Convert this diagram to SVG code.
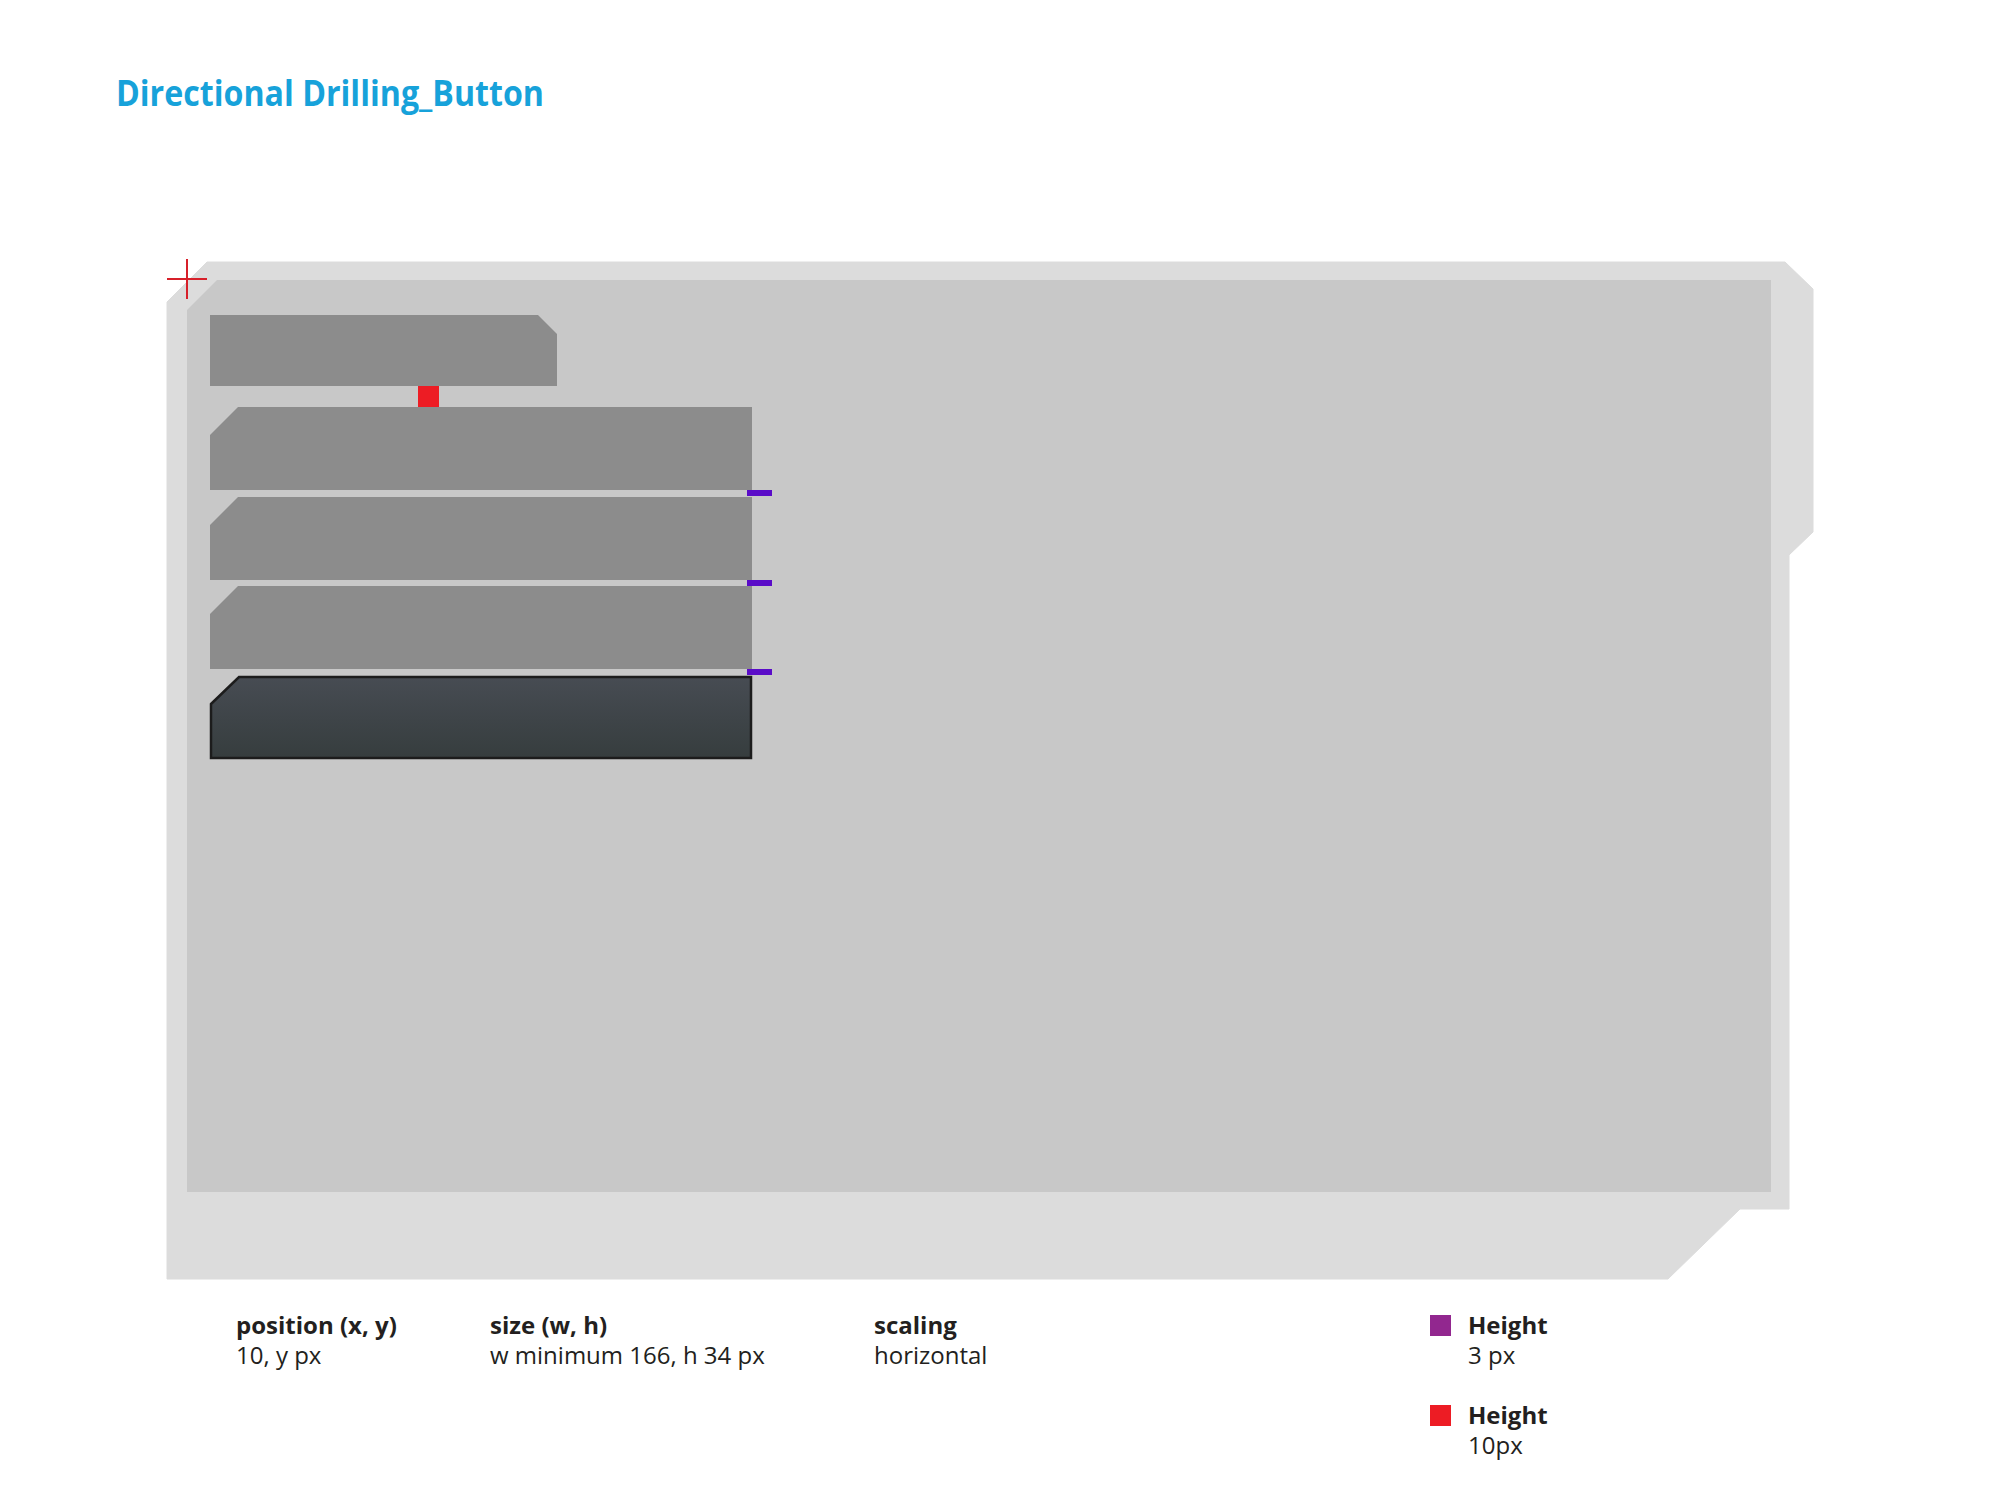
<svg xmlns="http://www.w3.org/2000/svg" width="2000" height="1500" viewBox="0 0 2000 1500">
<style>
.t{font-family:"Open Sans","Noto Sans","Liberation Sans",sans-serif;fill:#231f20;font-size:24px}
.b{font-weight:700}
.btn{fill:#8c8c8c}
.pv{fill:#5a0cc8}
</style>
<defs>
<linearGradient id="dg" x1="0" y1="0" x2="0" y2="1">
<stop offset="0" stop-color="#474c53"/>
<stop offset="1" stop-color="#363d3e"/>
</linearGradient>
</defs>
<rect width="2000" height="1500" fill="#ffffff"/>
<text x="116" y="106" font-family="'Open Sans','Noto Sans','Liberation Sans',sans-serif" font-size="36" font-weight="700" fill="#17a2da" textLength="428" lengthAdjust="spacingAndGlyphs">Directional Drilling_Button</text>
<g id="frame">
<polygon points="167,302 207,262 1785,262 1813,289 1813,532 1789,555 1789,1209 1740,1209 1668,1279 167,1279" fill="#dcdcdc" stroke="#dcdcdc" stroke-width="1" stroke-linejoin="round"/>
<polygon points="187,310 217,280 1771,280 1771,1192 187,1192" fill="#c8c8c8"/>
</g>
<g id="origin">
<line x1="167" y1="279" x2="207" y2="279" stroke="#d7202a" stroke-width="2"/>
<line x1="187" y1="259" x2="187" y2="299" stroke="#d7202a" stroke-width="2"/>
</g>
<g id="button1"><polygon class="btn" points="210,315 538,315 557,334 557,386 210,386"/></g>
<g id="button2"><polygon class="btn" points="210,435 238,407 752,407 752,490 210,490"/></g>
<g id="button3"><polygon class="btn" points="210,525 238,497 752,497 752,580 210,580"/></g>
<g id="button4"><polygon class="btn" points="210,614 238,586 752,586 752,669 210,669"/></g>
<g id="button5"><polygon points="211,704 239,677 751,677 751,758 211,758" fill="url(#dg)" stroke="#1c1c1c" stroke-width="2.5"/></g>
<g id="markers">
<rect x="418" y="386" width="21" height="21" fill="#ed1c24"/>
<rect class="pv" x="747" y="490" width="25" height="6"/>
<rect class="pv" x="747" y="580" width="25" height="6"/>
<rect class="pv" x="747" y="669" width="25" height="6"/>
</g>
<g id="specs">
<text class="t b" x="236" y="1334">position (x, y)</text>
<text class="t" x="236" y="1364">10, y px</text>
<text class="t b" x="490" y="1334">size (w, h)</text>
<text class="t" x="490" y="1364">w minimum 166, h 34 px</text>
<text class="t b" x="874" y="1334">scaling</text>
<text class="t" x="874" y="1364">horizontal</text>
</g>
<g id="legend">
<rect x="1430" y="1315" width="21" height="21" fill="#92278f"/>
<text class="t b" x="1468" y="1334">Height</text>
<text class="t" x="1468" y="1364">3 px</text>
<rect x="1430" y="1405" width="21" height="21" fill="#ed1c24"/>
<text class="t b" x="1468" y="1424">Height</text>
<text class="t" x="1468" y="1454">10px</text>
</g>
</svg>
